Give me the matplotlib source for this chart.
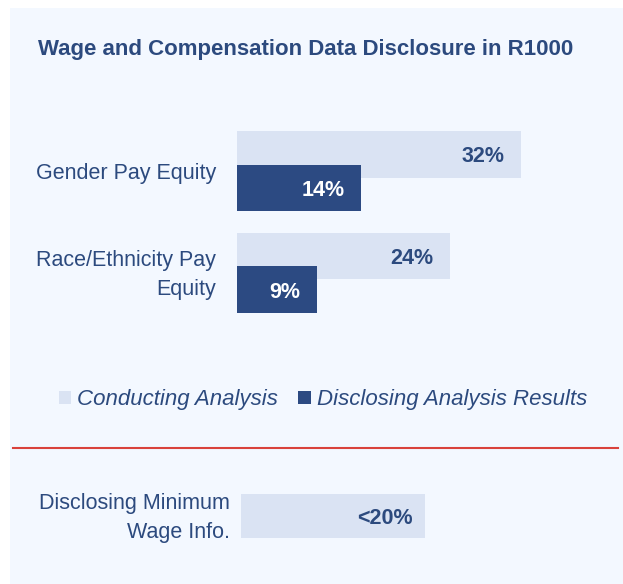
import matplotlib
matplotlib.use("Agg")
import matplotlib.pyplot as plt
from matplotlib import font_manager
from matplotlib.patches import Rectangle, Patch
from matplotlib.lines import Line2D
from matplotlib.transforms import ScaledTranslation

# ---- data ----
categories = ["Gender Pay Equity", "Race/Ethnicity Pay\nEquity"]
conducting = [32, 24]
disclosing = [14, 9]
series_names = ["Conducting Analysis", "Disclosing Analysis Results"]
min_wage_category = ["Disclosing Minimum\nWage Info."]
min_wage_value = [20]
min_wage_label = ["<20%"]
title = "Wage and Compensation Data Disclosure in R1000"

# ---- style ----
names = {f.name for f in font_manager.fontManager.ttflist}
FONT = "Liberation Sans Narrow" if "Liberation Sans Narrow" in names else "Liberation Sans"
plt.rcParams["font.family"] = [FONT, "DejaVu Sans"]

BG = "#f3f8ff"
LIGHT = "#dae3f3"
DARK = "#2c4a82"
TXT = "#2c4a7e"
RED = "#d9423c"

W, H = 623, 584
fig = plt.figure(figsize=(W / 100, H / 100), dpi=100)
fig.patch.set_facecolor("white")

def fx(px):
    return px / W

def fy(py):
    return 1 - py / H

down = ScaledTranslation(0, -2.5 / 100, fig.dpi_scale_trans)
up = ScaledTranslation(0, 4 / 100, fig.dpi_scale_trans)

# panel background
fig.add_artist(Rectangle((fx(10), 0), fx(W - 10), fy(8), transform=fig.transFigure,
                         facecolor=BG, edgecolor="none", zorder=0))

# title
fig.text(fx(38), fy(50), title, ha="left", va="center", fontsize=16,
         fontweight="bold", color=TXT)

# ---- top bars ----
PX_PER_UNIT = 8.875
XMAX = 40
ax = fig.add_axes([fx(237), fy(344), fx(XMAX * PX_PER_UNIT), (344 - 100) / H])
ax.set_facecolor("none")
ypos = list(range(len(categories)))
off = 0.165
hgt = 0.46
ax.barh([y - off for y in ypos], conducting, height=hgt, color=LIGHT, zorder=1)
ax.barh([y + off for y in ypos], disclosing, height=hgt, color=DARK, zorder=2)
for y, v in zip(ypos, conducting):
    ax.text(v - 1.85, y - off, f"{v}%", ha="right", va="center", fontsize=15.5,
            fontweight="bold", color=TXT, zorder=3, transform=ax.transData + down)
for y, v in zip(ypos, disclosing):
    ax.text(v - 1.85, y + off, f"{v}%", ha="right", va="center", fontsize=15.5,
            fontweight="bold", color="white", zorder=3, transform=ax.transData + down)
ax.set_xlim(0, XMAX)
ax.set_ylim(1.7, -0.7)
ax.set_yticks(ypos)
ax.set_yticklabels(categories, fontsize=15.5, color=TXT, ha="right", linespacing=1.45)
ax.tick_params(axis="y", length=0, pad=15)
ax.set_xticks([])
for s in ax.spines.values():
    s.set_visible(False)

# legend
handles = [Patch(facecolor=LIGHT, edgecolor="none"), Patch(facecolor=DARK, edgecolor="none")]
fig.legend(handles, series_names, loc="center", bbox_to_anchor=(fx(323), fy(400)), ncol=2,
           frameon=False, prop={"size": 16, "style": "italic", "family": [FONT, "DejaVu Sans"]},
           labelcolor=TXT, handlelength=0.55, handleheight=0.55, handletextpad=0.3,
           columnspacing=0.9)

# red separator
fig.add_artist(Line2D([fx(13), fx(618)], [fy(448), fy(448)], transform=fig.transFigure,
                      color=RED, lw=1.5))

# ---- bottom bar ----
PX_PER_UNIT2 = 9.2
ax2 = fig.add_axes([fx(241), fy(543.5), fx(XMAX * PX_PER_UNIT2), 55 / H])
ax2.set_facecolor("none")
ax2.barh([0], min_wage_value, height=0.8, color=LIGHT)
for v, lab in zip(min_wage_value, min_wage_label):
    ax2.text(v - 1.3, 0, lab, ha="right", va="center", fontsize=15.5,
             fontweight="bold", color=TXT, transform=ax2.transData + down)
ax2.set_xlim(0, XMAX)
ax2.set_ylim(0.5, -0.5)
ax2.set_yticks([0])
ax2.set_yticklabels(min_wage_category, fontsize=15.5, color=TXT, ha="right", linespacing=1.45)
ax2.tick_params(axis="y", length=0, pad=8)
ax2.set_xticks([])
for s in ax2.spines.values():
    s.set_visible(False)

fig.canvas.draw()
for lab in list(ax.get_yticklabels()) + list(ax2.get_yticklabels()):
    if "\n" in lab.get_text():
        lab.set_transform(lab.get_transform() + up)

fig.savefig("out.png", dpi=100, facecolor=fig.get_facecolor())
